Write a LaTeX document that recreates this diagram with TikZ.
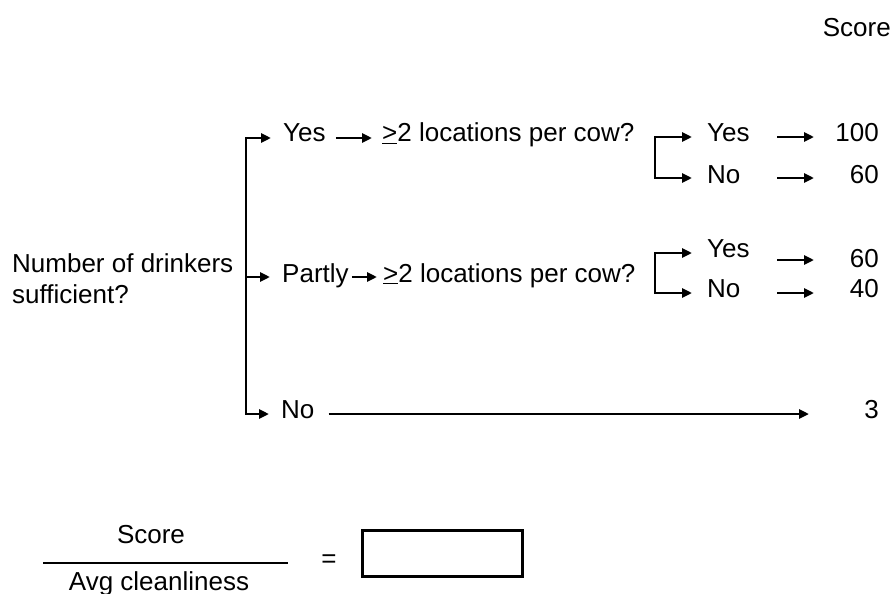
\documentclass[tikz,border=0pt]{standalone}
\usepackage{fontspec}
\setmainfont{Liberation Sans}
\usetikzlibrary{arrows.meta,positioning}

\begin{document}
\begin{tikzpicture}[x=1pt,y=-1pt,
 lbl/.style={inner sep=0pt,font=\fontsize{26}{31}\selectfont},
 flow/.style={-{Triangle[length=10pt,width=9pt]},line width=2.7pt},
 bar/.style={line width=2.7pt}]
\useasboundingbox (0,0) rectangle (895,594);
\node[lbl,anchor=base east] (head) at (891,37) {Score};
\node[lbl,anchor=base west,align=left] (q) at (12,303) {Number of drinkers\\sufficient?};
% first split
\coordinate (btop) at (246,138);
\coordinate (bmid) at (246,277);
\coordinate (bbot) at (246,414);
\node[lbl,anchor=base west] (yes) at (283,142) {Yes};
\node[lbl,anchor=base west] (locA) at (382,142) {\underline{>}2 locations per cow?};
\node[lbl,anchor=base west] (partly) at (282,282) {Partly};
\node[lbl,anchor=base west] (locB) at (383,282) {\underline{>}2 locations per cow?};
\node[lbl,anchor=base west] (no) at (281,418) {No};
\draw[flow,shorten >=12pt] (bbot) -- (btop) -- (btop -| yes.west);
\draw[flow,shorten >=12pt] (btop) -- (bbot) -- (bbot -| no.west);
\draw[flow,shorten >=12pt] (bmid) -- (bmid -| partly.west);
\draw[flow,shorten <=10pt,shorten >=10pt] (yes.east |- btop) -- (locA.west |- btop);
\draw[flow,shorten <=3pt,shorten >=6pt] (partly.east |- bmid) -- (locB.west |- bmid);
\coordinate (nend) at (809,414);
\draw[flow,shorten <=14pt] (no.east |- bbot) -- (nend);
% second split
\coordinate (sAtop) at (655,137);
\coordinate (sAbot) at (655,178);
\coordinate (sBtop) at (655,253);
\coordinate (sBbot) at (655,293);
\node[lbl,anchor=base west] (yesA) at (707,142) {Yes};
\node[lbl,anchor=base west] (noA) at (707,183) {No};
\node[lbl,anchor=base west] (yesB) at (707,257) {Yes};
\node[lbl,anchor=base west] (noB) at (707,297) {No};
\draw[flow,shorten >=15pt] (sAbot) -- (sAtop) -- (sAtop -| yesA.west);
\draw[flow,shorten >=15pt] (sAtop) -- (sAbot) -- (sAbot -| noA.west);
\draw[flow,shorten >=15pt] (sBbot) -- (sBtop) -- (sBtop -| yesB.west);
\draw[flow,shorten >=15pt] (sBtop) -- (sBbot) -- (sBbot -| noB.west);
% scores
\node[lbl,anchor=base east] (pA) at (879,142) {100};
\node[lbl,anchor=base east] (pB) at (879,183) {60};
\node[lbl,anchor=base east] (pC) at (879,267) {60};
\node[lbl,anchor=base east] (pD) at (879,297) {40};
\node[lbl,anchor=base east] (pE) at (879,418) {3};
\coordinate (rs) at (777,0);
\coordinate (re) at (814,0);
\draw[flow] (sAtop -| rs) -- (sAtop -| re);
\draw[flow] (sAbot -| rs) -- (sAbot -| re);
\draw[flow] (rs |- 0,260) -- (re |- 0,260);
\draw[flow] (sBbot -| rs) -- (sBbot -| re);
% ratio
\node[lbl,anchor=base] (fnum) at (151,543) {Score};
\node[lbl,anchor=base] (fden) at (159,590) {Avg cleanliness};
\coordinate (fl) at (43,563);
\coordinate (fr) at (288,563);
\draw[bar] (fl) -- (fr);
\node[lbl] (eq) at (329,561) {=};
\node[draw,line width=2.7pt,minimum width=160pt,minimum height=46pt,inner sep=0pt] (answer) at (442.5,553.5) {};
\end{tikzpicture}
\end{document}
